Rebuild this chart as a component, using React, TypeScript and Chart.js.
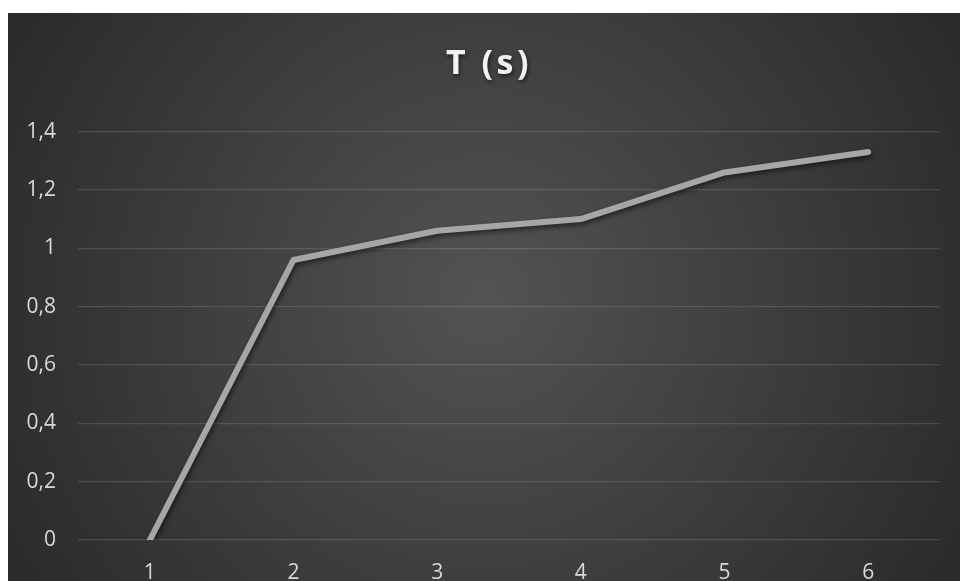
import React, { useEffect, useRef } from "react";
import { Chart, registerables } from "chart.js";

Chart.register(...registerables);

const categories = ["1", "2", "3", "4", "5", "6"];
const seriesT = [0, 0.96, 1.06, 1.1, 1.26, 1.33];
const yTicks = [0, 0.2, 0.4, 0.6, 0.8, 1, 1.2, 1.4];
const titleText = "T (s)";

const FONT = "'Open Sans', 'Noto Sans', sans-serif";

const bgPlugin = {
  id: "bgPlugin",
  beforeDraw(chart: any) {
    const { ctx, width, height } = chart;
    ctx.save();
    const g = ctx.createRadialGradient(width * 0.5, height * 0.5, 0, width * 0.5, height * 0.5, width * 0.62);
    g.addColorStop(0, "#535353");
    g.addColorStop(1, "#272727");
    ctx.fillStyle = g;
    ctx.fillRect(0, 0, width, height);
    ctx.restore();
  },
  beforeDatasetsDraw(chart: any) {
    const ctx = chart.ctx;
    ctx.save();
    ctx.shadowColor = "rgba(0,0,0,0.55)";
    ctx.shadowBlur = 5;
    ctx.shadowOffsetX = 1.5;
    ctx.shadowOffsetY = 2.5;
  },
  afterDatasetsDraw(chart: any) {
    chart.ctx.restore();
  },
  afterDraw(chart: any) {
    const ctx = chart.ctx;
    ctx.save();
    ctx.font = `bold 34px ${FONT}`;
    (ctx as any).letterSpacing = "3.5px";
    ctx.fillStyle = "#f2f2f2";
    ctx.textAlign = "center";
    ctx.textBaseline = "middle";
    ctx.shadowColor = "rgba(0,0,0,0.6)";
    ctx.shadowBlur = 4;
    ctx.shadowOffsetX = 1;
    ctx.shadowOffsetY = 2;
    ctx.fillText(titleText, 481, 51);
    ctx.restore();
  },
};

export default function App() {
  const ref = useRef<HTMLCanvasElement | null>(null);
  useEffect(() => {
    if (!ref.current) return;
    const chart = new Chart(ref.current, {
      type: "line",
      data: {
        labels: categories,
        datasets: [
          {
            label: titleText,
            data: seriesT,
            borderColor: "#a6a6a6",
            borderWidth: 6,
            pointRadius: 0,
            borderCapStyle: "round",
            borderJoinStyle: "round",
            tension: 0,
          },
        ],
      },
      options: {
        animation: false,
        responsive: false,
        layout: { padding: { left: 0, right: 20, top: 0, bottom: 0 } },
        plugins: {
          legend: { display: false },
          tooltip: { enabled: false },
          title: {
            display: true,
            text: titleText,
            color: "rgba(0,0,0,0)",
            font: { family: FONT, size: 28, weight: "bold" },
            padding: { top: 34, bottom: 51 },
          },
        },
        scales: {
          x: {
            offset: true,
            grid: { display: false },
            border: { display: false },
            ticks: {
              color: "#d9d9d9",
              font: { family: FONT, size: 21 },
              padding: 12,
            },
            afterFit(scale: any) {
              scale.height = 41;
            },
          },
          y: {
            min: 0,
            max: 1.4,
            border: { display: false },
            grid: { color: "rgba(255,255,255,0.13)", lineWidth: 1.3, drawTicks: false },
            afterBuildTicks(scale: any) {
              scale.ticks = yTicks.map((v) => ({ value: v }));
            },
            ticks: {
              color: "#d9d9d9",
              font: { family: FONT, size: 21 },
              padding: 22,
              callback: (v: any) => String(Math.round(Number(v) * 10) / 10).replace(".", ","),
            },
            afterFit(scale: any) {
              scale.width = 70;
            },
          },
        },
      },
      plugins: [bgPlugin],
    } as any);
    return () => chart.destroy();
  }, []);
  return (
    <div style={{ position: "fixed", left: 8, top: 13, width: 952, height: 568 }}>
      <canvas ref={ref} width={952} height={568} style={{ display: "block" }} />
    </div>
  );
}
